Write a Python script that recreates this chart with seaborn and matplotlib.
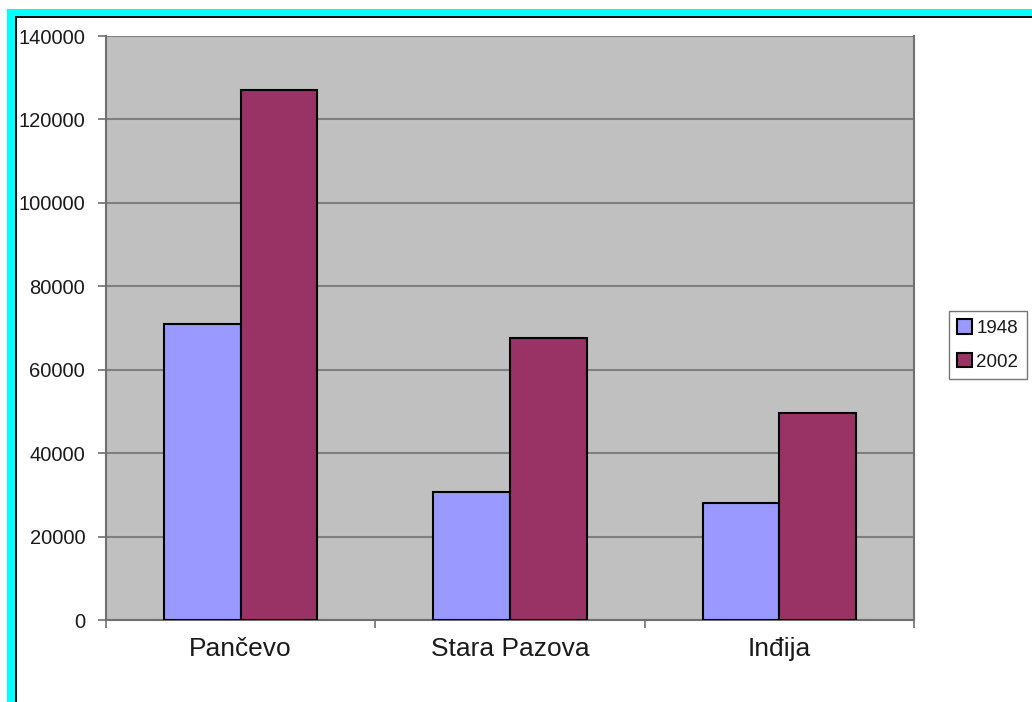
import matplotlib
matplotlib.use("Agg")
import matplotlib.pyplot as plt
from matplotlib.patches import Rectangle
import pandas as pd
import seaborn as sns

# Population of three municipalities in 1948 and 2002
towns = ["Pančevo", "Stara Pazova", "Inđija"]
years = ["1948", "2002"]
pop_1948 = [70900, 30600, 28000]
pop_2002 = [127100, 67600, 49600]
yticks = [0, 20000, 40000, 60000, 80000, 100000, 120000, 140000]
colors = ["#9999FF", "#993366"]

df = pd.DataFrame({
    "town": towns * 2,
    "year": [years[0]] * 3 + [years[1]] * 3,
    "population": pop_1948 + pop_2002,
})

sns.set_style("white")
plt.rcParams["font.family"] = ["Liberation Sans", "DejaVu Sans"]

fig = plt.figure(figsize=(10.32, 7.02), dpi=100)
W, H = 1032, 702

# Window frame: cyan band with a thin dark inner edge
fig.patches.append(Rectangle((7 / W, 0), 9 / W, 1 - 9 / H, transform=fig.transFigure,
                             facecolor="#00FFFF", edgecolor="none", zorder=0))
fig.patches.append(Rectangle((7 / W, 1 - 17 / H), 1, 8 / H, transform=fig.transFigure,
                             facecolor="#00FFFF", edgecolor="none", zorder=0))
fig.patches.append(Rectangle((15 / W, 0), 2 / W, 1 - 16 / H, transform=fig.transFigure,
                             facecolor="#111111", edgecolor="none", zorder=1))
fig.patches.append(Rectangle((15 / W, 1 - 18 / H), 1, 2 / H, transform=fig.transFigure,
                             facecolor="#111111", edgecolor="none", zorder=1))

ax = fig.add_axes([106 / W, 1 - 620 / H, (914 - 106) / W, (620 - 36) / H])
ax.set_facecolor("#C0C0C0")

sns.barplot(data=df, x="town", y="population", hue="year", order=towns,
            hue_order=years, palette=colors, width=0.57, saturation=1,
            edgecolor="black", linewidth=1.5, ax=ax, zorder=3)

ax.set_ylim(0, 140000)
ax.set_xlim(-0.5, 2.5)
ax.set_yticks(yticks)
ax.set_yticklabels([str(v) for v in yticks], fontsize=14.5, color="#1a1a1a")
ax.yaxis.grid(True, color="#7F7F7F", linewidth=1.5, zorder=0)
ax.set_axisbelow(True)
ax.tick_params(axis="y", direction="out", length=6, width=1.2, color="#707070",
               pad=9, left=True)

# Category ticks sit at the boundaries between groups
ax.set_xticks([0, 1, 2])
ax.set_xticklabels(towns, fontsize=19, color="#1a1a1a")
ax.tick_params(axis="x", length=0, pad=12)
ax.set_xticks([-0.5, 0.5, 1.5, 2.5], minor=True)
ax.tick_params(axis="x", which="minor", direction="out", length=6, width=1.2,
               color="#707070", bottom=True)

for side in ["left", "bottom", "right"]:
    ax.spines[side].set_visible(True)
    ax.spines[side].set_color("#707070")
    ax.spines[side].set_linewidth(1.5)
ax.spines["top"].set_visible(False)

ax.set_xlabel("")
ax.set_ylabel("")

leg = ax.legend(loc="center left", bbox_to_anchor=(949 / W, 1 - 345 / H),
                bbox_transform=fig.transFigure, fontsize=13.5, frameon=True,
                fancybox=False, edgecolor="#555555", handlelength=0.8,
                handleheight=0.8, handletextpad=0.2, borderpad=0.45,
                labelspacing=0.85, borderaxespad=0)
leg.get_frame().set_linewidth(1.0)
for t in leg.get_texts():
    t.set_color("#1a1a1a")

fig.savefig("out.png", dpi=100, facecolor="white")
